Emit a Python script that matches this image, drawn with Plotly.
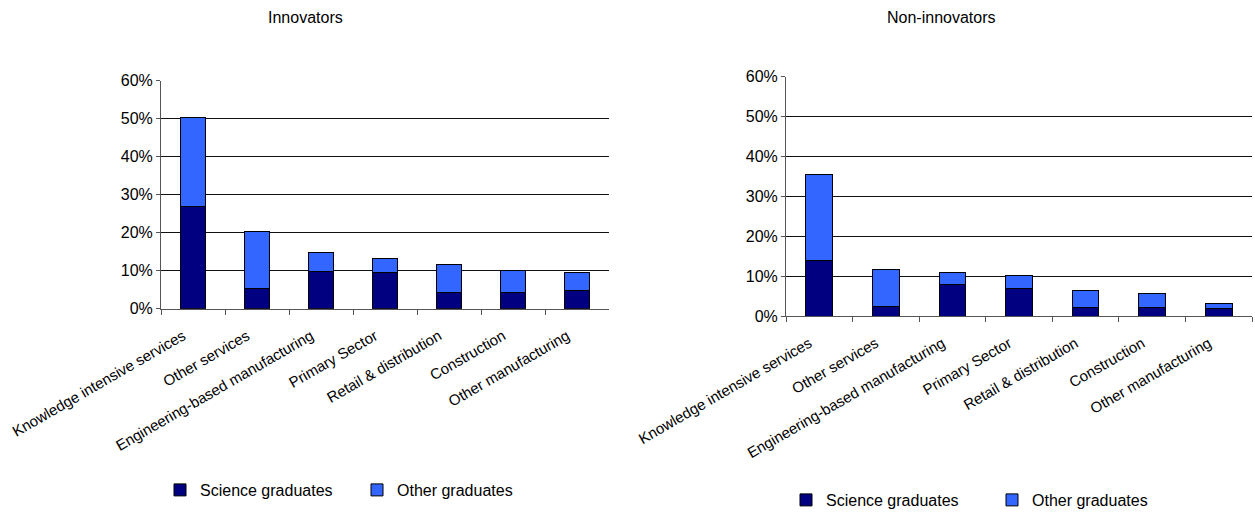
import plotly.graph_objects as go

# Sector categories (same order in both panels)
sectors = [
    "Knowledge intensive services",
    "Other services",
    "Engineering-based manufacturing",
    "Primary Sector",
    "Retail & distribution",
    "Construction",
    "Other manufacturing",
]

# Share of employees (%) - innovating firms
innov_science = [27.0, 5.4, 9.7, 9.4, 4.3, 4.3, 4.8]
innov_other = [23.2, 14.9, 5.1, 3.9, 7.3, 5.7, 4.6]

# Share of employees (%) - non-innovating firms
noninnov_science = [14.0, 2.3, 8.0, 7.0, 2.1, 2.1, 1.8]
noninnov_other = [21.6, 9.3, 2.9, 3.1, 4.2, 3.5, 1.3]

y_ticks = [0, 10, 20, 30, 40, 50, 60]
y_tick_labels = ["0%", "10%", "20%", "30%", "40%", "50%", "60%"]

SCI_COLOR = "#000080"
OTH_COLOR = "#3366FF"
FONT = "Liberation Sans, Arial, sans-serif"

W, H = 1255, 514

fig = go.Figure()

panels = [
    ("x", "y", "legend", innov_science, innov_other),
    ("x2", "y2", "legend2", noninnov_science, noninnov_other),
]
for xa, ya, lg, sci, oth in panels:
    fig.add_trace(go.Bar(
        x=sectors, y=sci, name="Science graduates", xaxis=xa, yaxis=ya,
        legend=lg, marker=dict(color=SCI_COLOR, line=dict(color="black", width=1)),
    ))
    fig.add_trace(go.Bar(
        x=sectors, y=oth, name="Other graduates", xaxis=xa, yaxis=ya,
        legend=lg, marker=dict(color=OTH_COLOR, line=dict(color="black", width=1)),
    ))


def px_x(p):
    return p / W


def px_y(p):
    return 1 - p / H


xaxis_common = dict(
    type="category", tickangle=-30, showgrid=False, automargin=False,
    showline=True, linecolor="#555555", linewidth=1,
    ticks="outside", ticklen=5, tickcolor="#555555", tickson="boundaries",
    ticklabelshift=-10, ticklabelstandoff=12,
    tickfont=dict(size=15, color="black", family=FONT),
    fixedrange=True,
)
yaxis_common = dict(
    range=[0, 60], tickmode="array", tickvals=y_ticks, ticktext=y_tick_labels,
    automargin=False,
    showgrid=True, gridcolor="#111111", gridwidth=1,
    showline=True, linecolor="#555555", linewidth=1,
    ticks="outside", ticklen=4, tickcolor="#555555",
    tickfont=dict(size=16, color="black", family=FONT),
    zeroline=False, fixedrange=True,
)

fig.update_layout(
    width=W, height=H,
    margin=dict(l=0, r=0, t=0, b=0, autoexpand=False),
    paper_bgcolor="white", plot_bgcolor="white",
    barmode="stack", bargap=0.6,
    font=dict(family=FONT, color="black", size=15),
    xaxis=dict(domain=[px_x(161), px_x(609)], anchor="y", **xaxis_common),
    yaxis=dict(domain=[px_y(308.7), px_y(80.7)], anchor="x", **yaxis_common),
    xaxis2=dict(domain=[px_x(786), px_x(1252)], anchor="y2", **xaxis_common),
    yaxis2=dict(domain=[px_y(316), px_y(76.7)], anchor="x2", **yaxis_common),
    legend=dict(
        orientation="h", x=px_x(160), y=px_y(490), xanchor="left", yanchor="middle",
        entrywidth=152, entrywidthmode="pixels", traceorder="normal",
        font=dict(size=16, family=FONT, color="black"), bgcolor="rgba(0,0,0,0)",
    ),
    legend2=dict(
        orientation="h", x=px_x(786), y=px_y(500), xanchor="left", yanchor="middle",
        entrywidth=161, entrywidthmode="pixels", traceorder="normal",
        font=dict(size=16, family=FONT, color="black"), bgcolor="rgba(0,0,0,0)",
    ),
    annotations=[
        dict(text="Innovators", x=px_x(305), y=px_y(18), xref="paper", yref="paper",
             xanchor="center", yanchor="middle", showarrow=False,
             font=dict(size=16, family=FONT, color="black")),
        dict(text="Non-innovators", x=px_x(941), y=px_y(18), xref="paper", yref="paper",
             xanchor="center", yanchor="middle", showarrow=False,
             font=dict(size=16, family=FONT, color="black")),
    ],
    showlegend=True,
)

fig.write_html("out.html")
